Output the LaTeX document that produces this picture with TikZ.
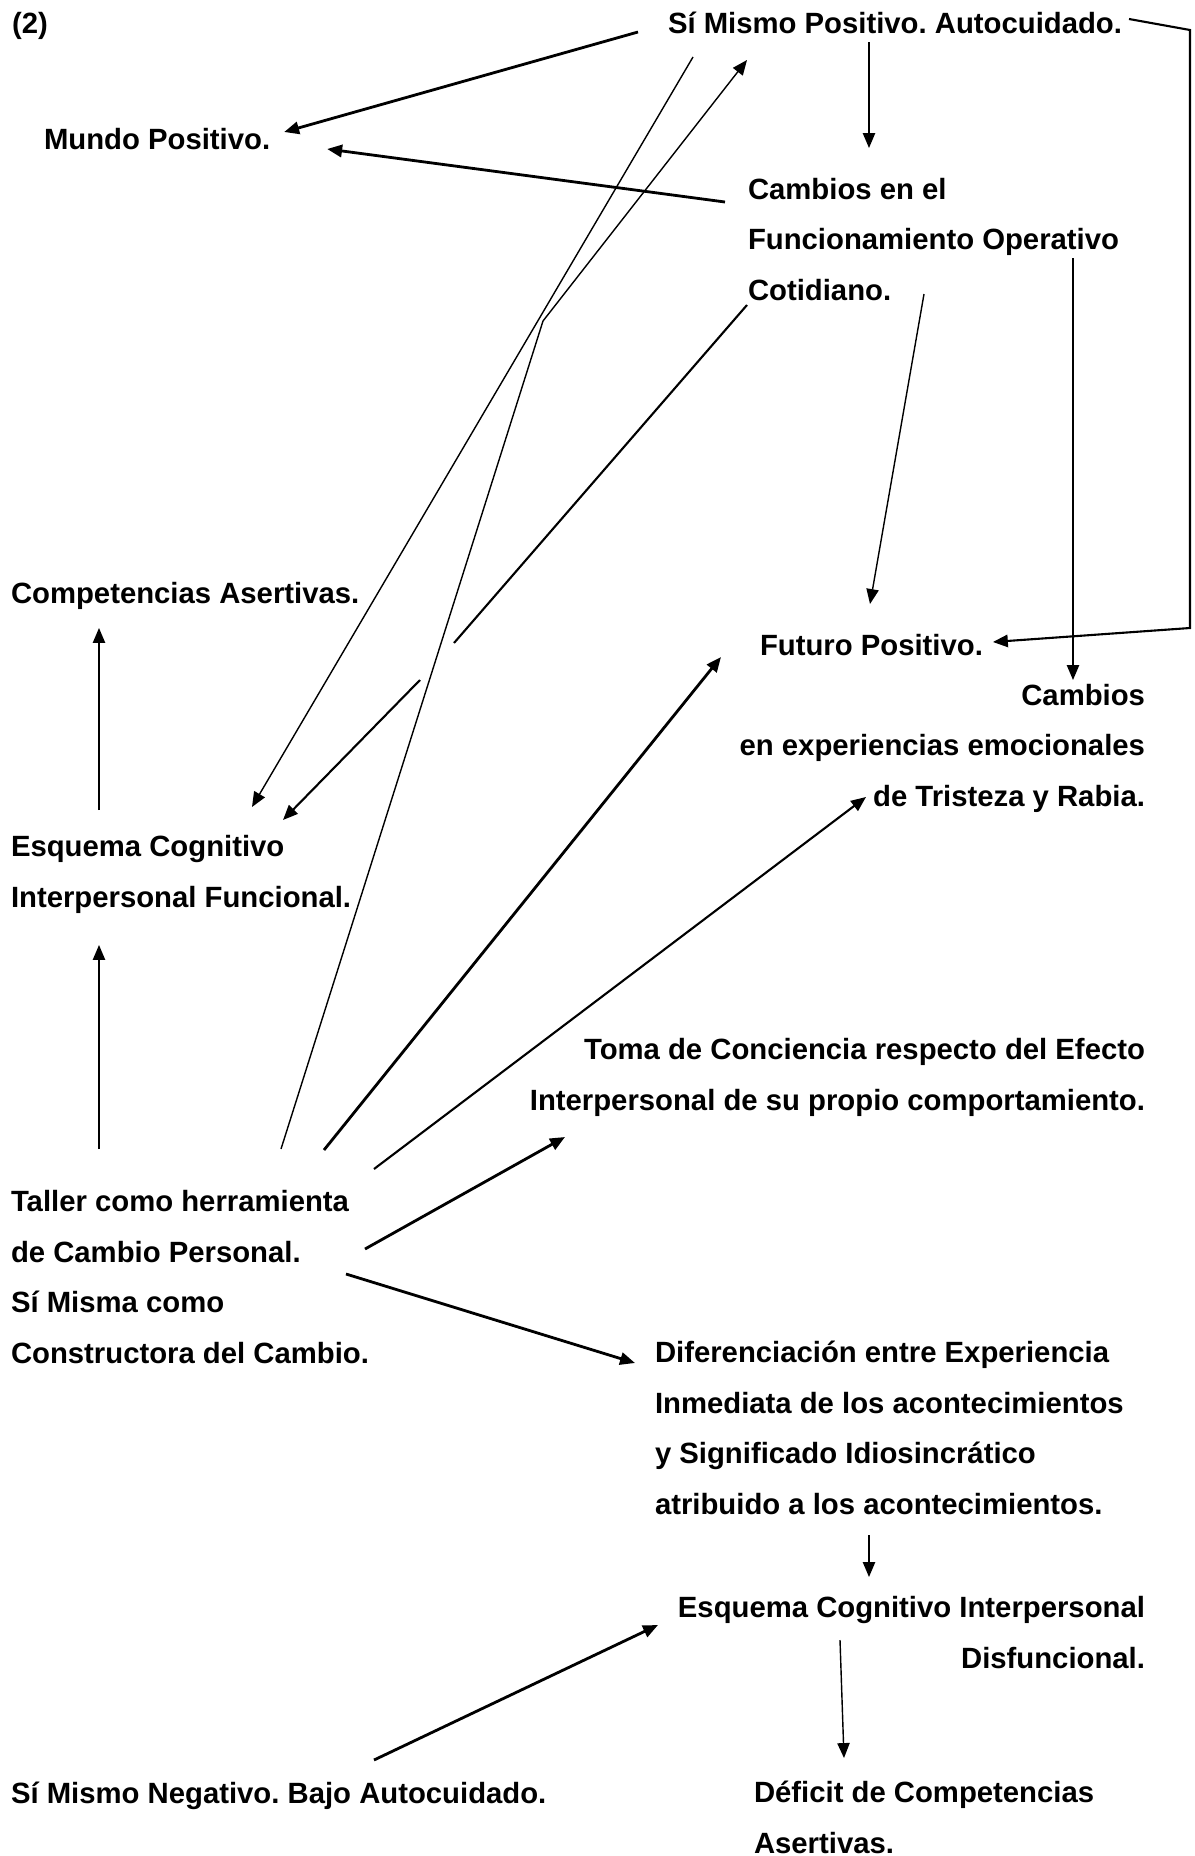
\documentclass[tikz,border=0pt]{standalone}
\usepackage{fontspec}
\setmainfont{Liberation Sans}
\frenchspacing
\usetikzlibrary{arrows.meta,calc}

\begin{document}
\begin{tikzpicture}[
  x=0.02cm, y=-0.02cm,
  >={Triangle[length=8.5pt,width=7pt]},
  every node/.style={inner sep=0pt, outer sep=0pt,
                     font=\fontsize{16.67pt}{28.7pt}\selectfont\bfseries},
  lbl/.style={anchor=base west, align=left},
  rlbl/.style={anchor=base east, align=right},
  link/.style={->, line width=0.8pt},
  midlink/.style={->, line width=1.2pt},
  boldlink/.style={->, line width=1.6pt},
]
\useasboundingbox (0,0) rectangle (1195,1856);

% ── Top row (multi-line nodes sit on their last baseline) ──
\node[lbl] (num) at (12,33) {(2)};
\node[lbl] (simpos) at (668,33) {Sí Mismo Positivo. Autocuidado.};
\node[lbl] (mundo) at (44,149) {Mundo Positivo.};
\node[lbl] (cambios) at (748,300)
  {Cambios en el\\Funcionamiento Operativo\\Cotidiano.};

% ── Middle ──
\node[lbl] (compas) at (11,603) {Competencias Asertivas.};
\node[lbl] (futuro) at (760,655) {Futuro Positivo.};
\node[rlbl] (emoc) at (1145,806)
  {Cambios\\en experiencias emocionales\\de Tristeza y Rabia.};
\node[lbl] (esqf) at (11,907) {Esquema Cognitivo\\Interpersonal Funcional.};
\node[rlbl] (toma) at (1145,1110)
  {Toma de Conciencia respecto del Efecto\\Interpersonal de su propio comportamiento.};

% ── Lower part ──
\node[lbl] (taller) at (11,1363)
  {Taller como herramienta\\de Cambio Personal.\\Sí Misma como\\Constructora del Cambio.};
\node[lbl] (difer) at (655,1514)
  {Diferenciación entre Experiencia\\Inmediata de los acontecimientos\\y Significado Idiosincrático\\atribuido a los acontecimientos.};
\node[rlbl] (esqd) at (1145,1668) {Esquema Cognitivo Interpersonal\\Disfuncional.};
\node[lbl] (simneg) at (11,1803) {Sí Mismo Negativo. Bajo Autocuidado.};
\node[lbl] (deficit) at (754,1853) {Déficit de Competencias\\Asertivas.};

% ── From Sí Mismo Positivo ──
\draw[boldlink] ($(simpos.base west)+(-30,-1)$) -- ($(mundo.base east)+(14,-17)$);
\draw[link] ($(simpos.base west)+(201,9)$) -- ($(cambios.base west)+(121,-152)$);
\draw[link] ($(simpos.base west)+(25,24)$) -- ($(esqf.base west)+(241,-100)$);
\draw[midlink] ($(simpos.base east)+(7,-14)$) -- ++(61,11) -- ++(0,598)
  -- ($(futuro.base east)+(10,-13)$);

% ── From Cambios en el Funcionamiento ──
\draw[boldlink] ($(cambios.base west)+(-23,-98)$) -- ($(mundo.base east)+(57,0)$);
\draw[link] ($(cambios.base west)+(325,-42)$) -- ($(emoc.base east)+(-72,-126)$);
\draw[link] ($(cambios.base west)+(176,-6)$) -- ($(futuro.base west)+(110,-51)$);
% broken line, as in the original
\draw[midlink] ($(cambios.base west)+(-1,5)$) -- ++(-293,338) ++(-34,37)
  -- ($(esqf.base west)+(272,-87)$);

% ── Left column ──
\draw[link] ($(taller.base west)+(88,-214)$) -- ($(esqf.base west)+(88,38)$);
\draw[link] ($(esqf.base west)+(88,-97)$) -- ($(compas.base west)+(88,25)$);

% ── From Taller ──
\draw[link] ($(taller.base west)+(270,-214)$) -- ++(262,-828)
  -- ($(simpos.base west)+(79,27)$);
\draw[boldlink] ($(taller.base west)+(313,-213)$) -- ($(futuro.base west)+(-39,2)$);
\draw[midlink] ($(taller.base west)+(363,-194)$) -- ($(emoc.base east)+(-279,-9)$);
\draw[boldlink] ($(taller.base west)+(354,-114)$) -- ($(toma.base east)+(-580,27)$);
\draw[boldlink] ($(taller.base west)+(335,-89)$) -- ($(difer.base west)+(-20,-151)$);

% ── Lower right ──
\draw[link] ($(difer.base west)+(214,21)$) -- ($(esqd.base east)+(-276,-91)$);
\draw[link] ($(esqd.base east)+(-305,-28)$) -- ($(deficit.base west)+(90,-95)$);
\draw[boldlink] ($(simneg.base west)+(363,-43)$) -- ($(esqd.base east)+(-487,-43)$);

\end{tikzpicture}
\end{document}
